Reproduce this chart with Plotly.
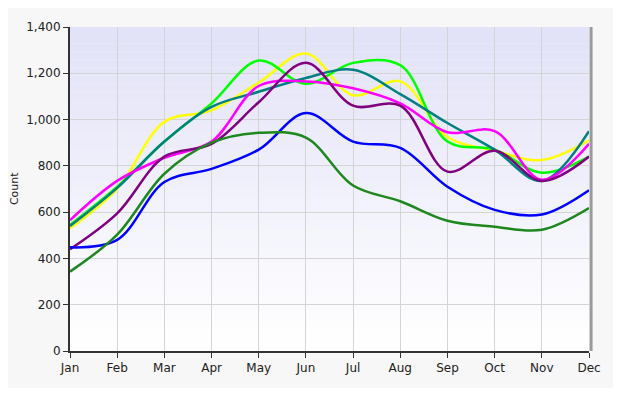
import plotly.graph_objects as go

months = ["Jan", "Feb", "Mar", "Apr", "May", "Jun", "Jul", "Aug", "Sep", "Oct", "Nov", "Dec"]

yellow = [530, 700, 990, 1040, 1160, 1285, 1105, 1165, 925, 865, 825, 910]
lime = [545, 710, 905, 1070, 1255, 1155, 1245, 1235, 905, 870, 770, 840]
teal = [540, 705, 905, 1055, 1120, 1180, 1215, 1110, 985, 870, 735, 950]
magenta = [565, 735, 835, 905, 1145, 1165, 1135, 1070, 945, 950, 740, 895]
purple = [440, 595, 840, 895, 1075, 1245, 1060, 1060, 775, 865, 735, 840]
blue = [448, 480, 730, 787, 870, 1028, 905, 878, 710, 610, 590, 695]
darkgreen = [343, 503, 766, 900, 943, 922, 715, 647, 563, 537, 524, 618]

series = [
    (yellow, "#FFFF00"),
    (lime, "#00FF00"),
    (teal, "#008080"),
    (magenta, "#FF00FF"),
    (purple, "#800080"),
    (blue, "#0000FF"),
    (darkgreen, "#1E881E"),
]

fig = go.Figure()
for vals, col in series:
    fig.add_trace(go.Scatter(
        x=months, y=vals, mode="lines",
        line=dict(color=col, width=2.5, shape="spline", smoothing=1.0),
        showlegend=False, hoverinfo="skip",
    ))

# vertical gradient background for plot area
shapes = []
n = 40
top = (226, 226, 248)
bot = (255, 255, 255)
for i in range(n):
    t = i / (n - 1)
    c = tuple(round(top[k] + (bot[k] - top[k]) * t) for k in range(3))
    y1 = 1 - i / n
    y0 = 1 - (i + 1) / n
    shapes.append(dict(type="rect", xref="x domain", yref="y domain",
                       x0=0, x1=1, y0=y0, y1=y1, layer="below",
                       line=dict(width=0), fillcolor="rgb(%d,%d,%d)" % c))
# right border shadow
shapes.append(dict(type="line", xref="x domain", yref="y domain",
                   x0=1.004, x1=1.004, y0=0, y1=1.0,
                   line=dict(color="#9a9a9a", width=3)))

fig.update_layout(
    width=605, height=380,
    margin=dict(l=62, r=23, t=12, b=37),
    paper_bgcolor="#f7f7f7",
    plot_bgcolor="rgba(0,0,0,0)",
    shapes=shapes,
    font=dict(family="DejaVu Sans", size=11, color="#222222"),
    xaxis=dict(
        range=[0, 11], showgrid=True, gridcolor="#d4d4d4", gridwidth=1,
        showline=True, linecolor="#333333", linewidth=2,
        ticks="outside", ticklen=5, tickcolor="#333333",
        tickfont=dict(size=12), zeroline=False,
    ),
    yaxis=dict(
        range=[0, 1400], dtick=200, tickformat=",",
        showgrid=True, gridcolor="#d4d4d4", gridwidth=1,
        showline=True, linecolor="#333333", linewidth=2,
        ticks="outside", ticklen=5, tickcolor="#333333",
        tickfont=dict(size=12), zeroline=False,
    ),
    annotations=[dict(
        text="Count", textangle=-90, xref="paper", yref="paper",
        x=-56 / 520, y=0.5, xanchor="center", yanchor="middle",
        showarrow=False, font=dict(size=11, color="#222222"),
    )],
)

fig.write_html("out.html")
